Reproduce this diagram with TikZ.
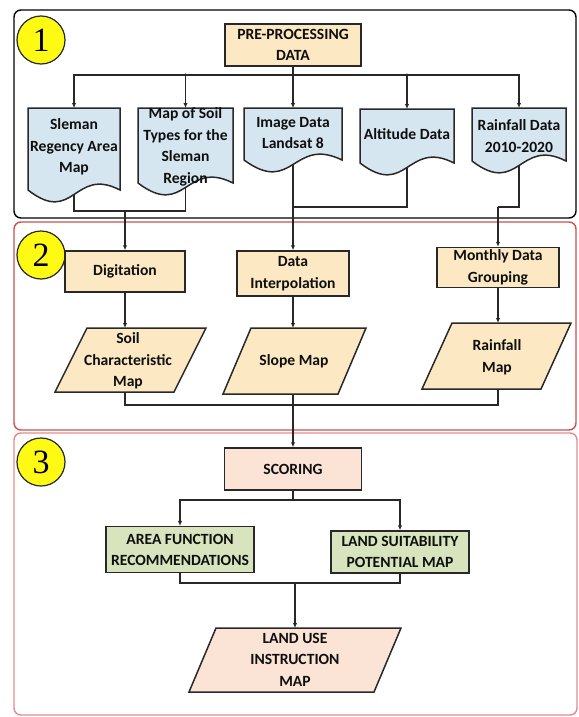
\documentclass[tikz,border=0pt]{standalone}
\usepackage{fontspec}
\setmainfont{Carlito}
\newfontfamily\numfont{Liberation Serif}
\usetikzlibrary{arrows.meta,shapes.geometric}
\definecolor{docblue}{RGB}{214,230,240}
\definecolor{peach}{RGB}{252,233,196}
\definecolor{pinkbox}{RGB}{251,228,214}
\definecolor{greenbox}{RGB}{215,228,190}
\definecolor{ylw}{RGB}{255,250,20}
\definecolor{edge}{RGB}{40,40,40}
\definecolor{redframe}{RGB}{200,80,80}
\definecolor{redlight}{RGB}{228,140,140}
\newcommand\docshape[4]{%
  \path[docsh] (#1,#3) -- (#2,#3) -- (#2,#4)
    .. controls ({(#1+#2)/2},{#4-24}) and ({(#1+#2)/2},{#4+36}) .. (#1,#4) -- cycle;}
\tikzset{
  txt/.style={font=\fontsize{15.6}{21.5}\selectfont\bfseries, align=center, text={rgb,255:red,15;green,15;blue,15}},
  frame/.style={rounded corners=7pt, line width=1.4pt},
  numc/.style={circle, draw=edge, line width=1.2pt, fill=ylw, minimum size=48pt, inner sep=0pt, font=\numfont\fontsize{34}{34}\selectfont},
  pbox/.style={txt, draw=edge, line width=1.5pt, fill=peach, inner sep=0pt},
  gbox/.style={txt, draw=edge, line width=1.5pt, fill=greenbox, inner sep=0pt},
  docsh/.style={draw=edge, line width=1.5pt, fill=docblue},
  para/.style={draw=edge, line width=1.5pt},
  conn/.style={draw=edge, line width=1.2pt},
  arr/.style={conn, -{Latex[length=5pt,width=4.5pt]}},
}
\begin{document}
\begin{tikzpicture}[x=1pt,y=-1pt]
\useasboundingbox[fill=white] (0,0) rectangle (578,717);

% ---------- section frames ----------
\draw[frame, draw=black] (14,10) rectangle (576,218);
\draw[frame, draw=redframe] (14,222) rectangle (576,430);
\draw[frame, draw=redlight] (14,433) rectangle (577,715);

\node[numc] (c1) at (41,40) {1};
\node[numc] (c2) at (41,255) {2};
\node[numc] (c3) at (41,462) {3};

% ---------- section 1 ----------
\node[pbox, minimum width=136pt, minimum height=42pt] (pre) at (293,45) {PRE-PROCESSING\\DATA};

\docshape{28}{120}{108}{190}
\docshape{138}{233}{108}{183}
\docshape{244}{342}{108}{160}
\docshape{360}{454}{109}{163}
\docshape{472}{566}{108}{161}

\node[txt] (sl) at (74,147) {Sleman\\Regency Area\\Map};
\node[txt] (ms) at (185.5,147) {Map of Soil\\Types for the\\Sleman\\Region};
\node[txt] (im) at (293,133) {Image Data\\Landsat 8};
\node[txt] (al) at (407,134) {Altitude Data};
\node[txt] (rf) at (519,136) {Rainfall Data\\2010-2020};

\coordinate (sltop) at (74,108);
\coordinate (mstop) at (185.5,108);
\coordinate (imtop) at (293,108);
\coordinate (altop) at (407,109);
\coordinate (rftop) at (519,108);
\coordinate (slbot) at (74,194.5);
\coordinate (msbot) at (185.5,187.5);
\coordinate (imbot) at (293,164.5);
\coordinate (albot) at (407,167.5);
\coordinate (rfbot) at (519,165.5);

\coordinate (bus) at (293,75);
\draw[conn] (pre.south) -- (bus);
\draw[arr] (bus) -| (sltop);
\draw[arr] (bus) -| (mstop);
\draw[arr] (bus) -- (imtop);
\draw[arr] (bus) -| (altop);
\draw[arr] (bus) -| (rftop);
\fill[edge] (185.5,75) circle (1.6);
\fill[edge] (407,75) circle (1.6);

% ---------- section 2 ----------
\node[pbox, minimum width=120pt, minimum height=41pt] (dig) at (125,271.5) {Digitation};
\node[pbox, minimum width=112pt, minimum height=45pt] (interp) at (293,273.5) {Data\\Interpolation};
\node[pbox, minimum width=122pt, minimum height=40pt] (month) at (498,267.5) {Monthly Data\\Grouping};

\coordinate (j1) at (125,211);
\draw[conn] (slbot) |- (j1) -| (msbot);
\draw[arr] (j1) -- (dig.north);
\draw[arr] (imbot) -- (interp.north);
\coordinate (j2) at (293,207);
\draw[conn] (albot) |- (j2);
\coordinate (j3) at (498,207);
\draw[conn] (rfbot) |- (j3);
\draw[arr] (j3) -- (month.north);

\draw[para, fill=peach] (55,392) -- (174,392) -- (206,328) -- (87,328) -- cycle;
\draw[para, fill=peach] (223,394) -- (338,394) -- (366,328) -- (251,328) -- cycle;
\draw[para, fill=peach] (422,389) -- (541,389) -- (571,323) -- (452,323) -- cycle;
\node[txt] (soil) at (128,361) {Soil\\Characteristic\\Map};
\node[txt] (slope) at (294,361) {Slope Map};
\node[txt] (rmap) at (497,357) {Rainfall\\Map};

\coordinate (soiltop) at (125,328);
\coordinate (soilbot) at (125,392);
\coordinate (slopetop) at (293,328);
\coordinate (slopebot) at (293,394);
\coordinate (rmtop) at (498,323);
\coordinate (rmbot) at (498,389);

\draw[arr] (dig.south) -- (soiltop);
\draw[arr] (interp.south) -- (slopetop);
\draw[arr] (month.south) -- (rmtop);

\coordinate (j4) at (293,405);
\draw[conn] (soilbot) |- (j4) -| (rmbot);

% ---------- section 3 ----------
\node[pbox, fill=pinkbox, minimum width=137pt, minimum height=42pt] (scoring) at (293,469) {SCORING};
\draw[arr] (slopebot) -- (scoring.north);

\node[gbox, minimum width=148pt, minimum height=46pt] (area) at (180,549.7) {AREA FUNCTION\\RECOMMENDATIONS};
\node[gbox, minimum width=138pt, minimum height=42pt] (land) at (400,552) {LAND SUITABILITY\\POTENTIAL MAP};

\coordinate (j5) at (293,500);
\draw[conn] (scoring.south) -- (j5);
\draw[arr] (j5) -| (area.north);
\draw[arr] (j5) -| (land.north);

\draw[para, fill=pinkbox] (189,692) -- (374,692) -- (401,628) -- (216,628) -- cycle;
\node[txt] (lu) at (295,659.5) {LAND USE\\INSTRUCTION\\MAP};
\coordinate (lutop) at (295,628);

\coordinate (j6) at (295,583);
\draw[conn] (area.south) |- (j6);
\draw[conn] (land.south) |- (j6);
\draw[arr] (j6) -- (lutop);
\end{tikzpicture}
\end{document}
